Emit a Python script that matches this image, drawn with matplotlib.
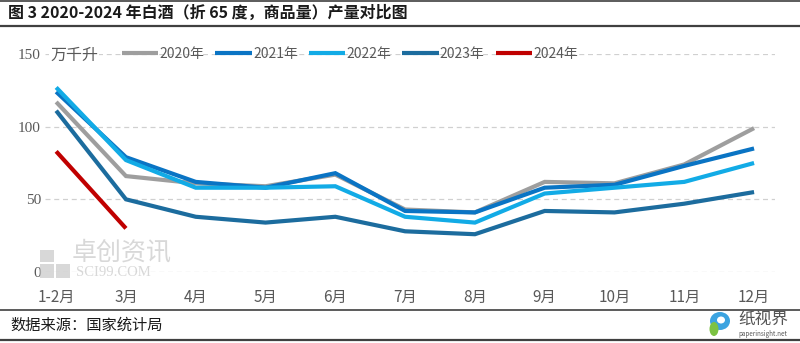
import matplotlib
matplotlib.use("Agg")
import matplotlib.pyplot as plt
from matplotlib.patches import Rectangle, Ellipse

plt.rcParams['font.family'] = ['Noto Sans CJK SC', 'DejaVu Sans']

months = ["1-2月", "3月", "4月", "5月", "6月", "7月", "8月", "9月", "10月", "11月", "12月"]
s2020 = [117, 66, 61, 59, 67, 43, 41, 62, 61, 74, 99]
s2021 = [124, 79, 62, 58, 68, 42, 41, 58, 60, 73, 85]
s2022 = [127, 77, 58, 58, 59, 38, 34, 54, 58, 62, 75]
s2023 = [111, 50, 38, 34, 38, 28, 26, 42, 41, 47, 55]
s2024 = [83, 30]
series = [("2020年", s2020, "#9E9E9E"),
          ("2021年", s2021, "#0A74C4"),
          ("2022年", s2022, "#12ABE6"),
          ("2023年", s2023, "#1C6C9E"),
          ("2024年", s2024, "#C00000")]
yticks = [0, 50, 100, 150]

W, H = 800, 343
fig = plt.figure(figsize=(W/100, H/100), dpi=100)
ax = fig.add_axes([45/W, 1-272/H, 730/W, 218/H])

x = list(range(len(months)))
for name, vals, col in series:
    ax.plot(x[:len(vals)], vals, color=col, lw=3.0, label=name, clip_on=False,
            solid_capstyle='butt', solid_joinstyle='miter')

ax.set_xlim(-0.16, 10.3)
ax.set_ylim(0, 150)
ax.set_yticks(yticks)
ax.set_yticklabels([str(v) for v in yticks], family=['Liberation Serif'])
for v in yticks:
    ax.axhline(v, color="#D0D0D0", lw=0.9, ls=(0, (4, 3)), zorder=0)
ax.set_xticks(x)
ax.set_xticklabels(months)
for s in ax.spines.values():
    s.set_visible(False)
ax.tick_params(length=0, colors="#595959", labelsize=11)
ax.tick_params(axis='x', pad=12)
ax.tick_params(axis='y', pad=3)

fig.text(50/W, 1-55/H, "万千升", fontsize=11.5, color="#595959", va='center', ha='left',
         zorder=5, bbox=dict(facecolor='white', edgecolor='none', pad=0.5))

leg = ax.legend(loc='center', bbox_to_anchor=(350/W, 1-54/H), bbox_transform=fig.transFigure,
                ncol=5, frameon=False, fontsize=10, handlelength=2.6, handletextpad=0.1,
                columnspacing=0.8, labelcolor="#595959")

# watermark
fig.text(72/W, 1-252/H, "卓创资讯", fontsize=18, color="#C8C8C8", alpha=0.7, va='center', ha='left')
fig.text(76/W, 1-273/H, "SCI99.COM", fontsize=10.5, color="#C8C8C8", alpha=0.7, va='center', ha='left',
         family=['Liberation Serif'])
for (rx, ry, rw, rh) in [(40, 250, 14, 12), (40, 264, 14, 14), (56, 264, 14, 14)]:
    fig.patches.append(Rectangle((rx/W, 1-(ry+rh)/H), rw/W, rh/H, transform=fig.transFigure,
                                 facecolor="#C8C8C8", alpha=0.7, edgecolor='none'))

# title and frame lines
fig.add_artist(plt.Line2D([0, 1], [1-1/H, 1-1/H], color="#404040", lw=1.2, transform=fig.transFigure))
fig.text(8/W, 1-13/H, "图 3 2020-2024 年白酒（折 65 度，商品量）产量对比图", fontsize=11.5,
         fontweight='bold', color="#1A1A1A", va='center', ha='left')
fig.add_artist(plt.Line2D([0, 1], [1-26/H, 1-26/H], color="#404040", lw=1.6, transform=fig.transFigure))
fig.add_artist(plt.Line2D([0, 1], [1-310/H, 1-310/H], color="#404040", lw=1.2, transform=fig.transFigure))
fig.add_artist(plt.Line2D([0, 1], [1-340/H, 1-340/H], color="#404040", lw=1.6, transform=fig.transFigure))
fig.text(10/W, 1-325/H, "数据来源：国家统计局", fontsize=11, color="#1A1A1A", va='center', ha='left')

# logo
fig.text(738/W, 1-320/H, "纸视界", fontsize=12, color="#555555", va='center', ha='left')
fig.text(738/W, 1-334/H, "paperinsight.net", fontsize=4.5, color="#555555", va='center', ha='left')
fig.patches.append(Ellipse((720/W, 1-321/H), 20/W, 18/H, transform=fig.transFigure,
                   facecolor="#3BA3E0", edgecolor='none'))
fig.patches.append(Ellipse((714/W, 1-329/H), 9/W, 14/H, transform=fig.transFigure,
                   facecolor="#7CC242", edgecolor='none'))
fig.patches.append(Ellipse((721/W, 1-320/H), 8/W, 7/H, transform=fig.transFigure,
                   facecolor="white", edgecolor='none'))

fig.savefig("out.png", dpi=100)
